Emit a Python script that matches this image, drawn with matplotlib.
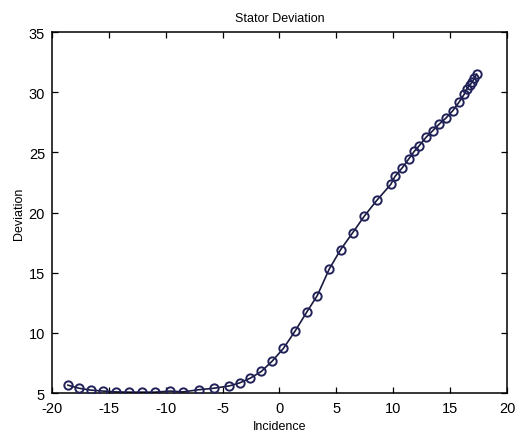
import matplotlib
matplotlib.use('Agg')
from matplotlib import pyplot as plt

# stator deviation vs incidence
incidence = [-18.6, -17.6, -16.6, -15.5, -14.4, -13.2, -12.1, -10.95, -9.6, -8.5,
             -7.1, -5.8, -4.4, -3.5, -2.55, -1.6, -0.65, 0.35,
             1.36, 2.39, 3.32, 4.38, 5.38, 6.43, 7.46, 8.55, 9.78, 10.15,
             10.8, 11.38, 11.85, 12.29, 12.88, 13.47, 14.05, 14.61, 15.23,
             15.81, 16.25, 16.46, 16.75, 16.95, 17.13, 17.34]
deviation = [5.66, 5.4, 5.25, 5.17, 5.1, 5.08, 5.08, 5.08, 5.17, 5.1,
             5.28, 5.4, 5.6, 5.85, 6.25, 6.8, 7.65, 8.72,
             10.14, 11.72, 13.1, 15.32, 16.93, 18.32, 19.71, 21.01, 22.34, 23.0,
             23.73, 24.48, 25.09, 25.56, 26.25, 26.8, 27.36, 27.83, 28.46,
             29.21, 29.85, 30.27, 30.6, 30.88, 31.16, 31.5]

xticks = [-20, -15, -10, -5, 0, 5, 10, 15, 20]
yticks = [5, 10, 15, 20, 25, 30, 35]

plt.rcParams['font.family'] = ['Liberation Sans', 'DejaVu Sans']
plt.rcParams['axes.unicode_minus'] = False

fig = plt.figure(figsize=(5.23, 4.35), dpi=100)
ax = fig.add_axes([0.0994, 0.094, 0.8700, 0.830])

ax.plot(incidence, deviation, '-', color='#1a1a40', linewidth=1.2, zorder=2)
ax.plot(incidence, deviation, 'o', markerfacecolor='none', markeredgecolor='#22225a',
        markersize=6, markeredgewidth=1.4, zorder=3)

ax.set_xlim(-20, 20)
ax.set_ylim(5, 35)
ax.set_xticks(xticks)
ax.set_yticks(yticks)
ax.tick_params(direction='in', top=True, right=True, labelsize=10.5, length=4, width=0.9)
ax.tick_params(axis='x', pad=6)
ax.tick_params(axis='y', pad=5)
for s in ax.spines.values():
    s.set_linewidth(1.1)

ax.set_xlabel('Incidence', fontsize=9, labelpad=3)
ax.set_ylabel('Deviation', fontsize=9, labelpad=3)
ax.set_title('Stator Deviation', fontsize=9, pad=8)

plt.savefig('out.png', dpi=100)
